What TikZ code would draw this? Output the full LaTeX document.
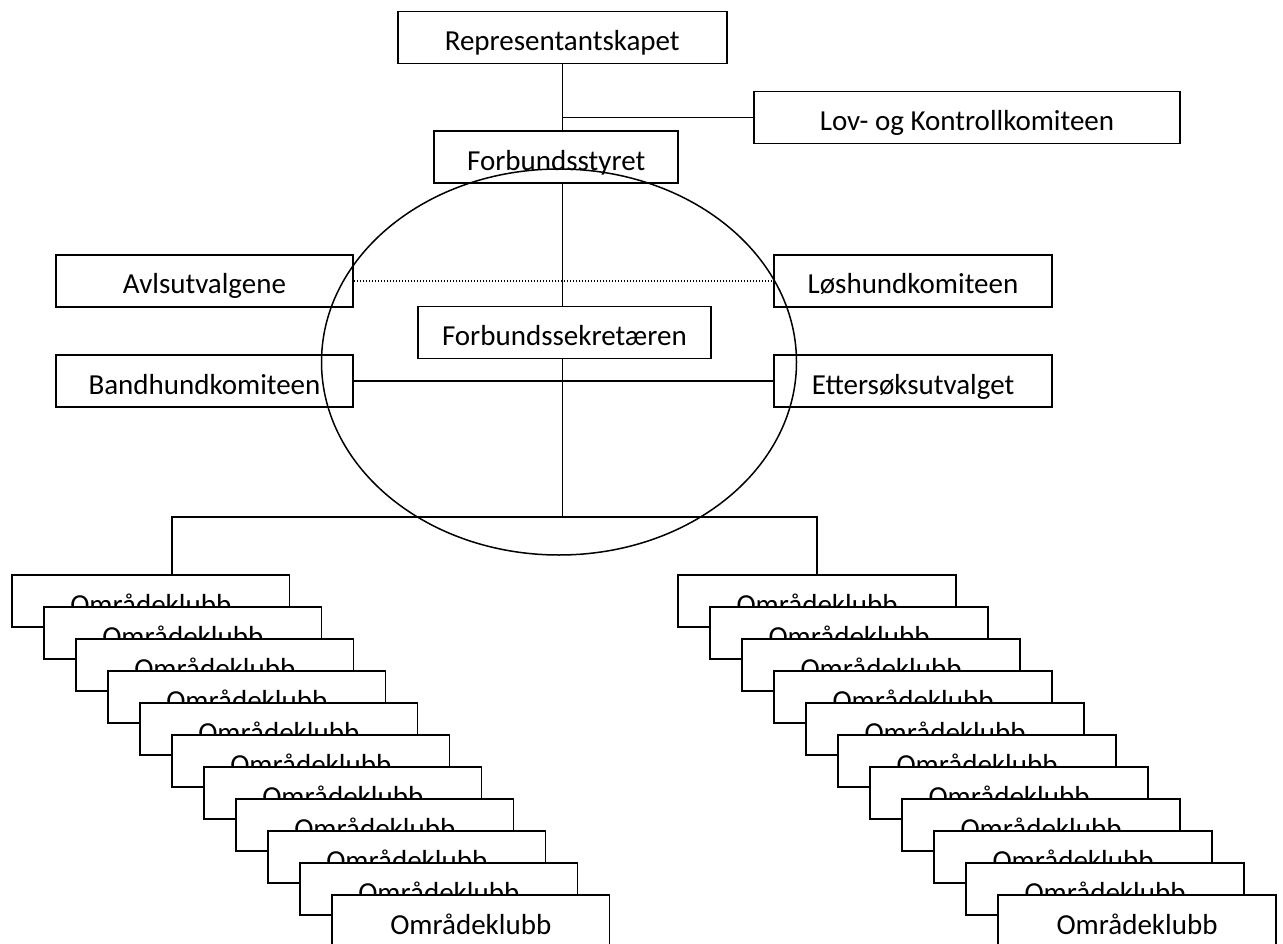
\documentclass[tikz,border=0pt]{standalone}
\usepackage{fontspec}
\setmainfont{Carlito}
\usetikzlibrary{shapes}
\tikzstyle{box} = [rectangle, draw=black, fill=white, line width=1.8pt, minimum height=52pt, inner sep=0pt, text height=26pt, text depth=0pt, font=\fontsize{29}{35}\selectfont]
\tikzstyle{club} = [box, minimum width=277.5pt]
\tikzstyle{line} = [line width=1.8pt]
\tikzstyle{dotline} = [line width=1.2pt, dash pattern=on 1.3pt off 1.7pt]

\begin{document}
\begin{tikzpicture}[x=1pt, y=-1pt]
\useasboundingbox (0,0) rectangle (1283,944);
\node[box, minimum width=329pt] (rep) at (562.2,37.5) {Representantskapet};
\node[box, minimum width=426pt] (lov) at (967,117.5) {Lov- og Kontrollkomiteen};
\node[box, minimum width=244.3pt] (styret) at (556.2,157.2) {Forbundsstyret};
\node[box, minimum width=297pt] (avl) at (204.5,281) {Avlsutvalgene};
\node[box, minimum width=277.4pt] (los) at (913,281) {Løshundkomiteen};
\node[box, minimum width=293.3pt] (sekr) at (564.4,332.5) {Forbundssekretæren};
\node[box, minimum width=297pt] (band) at (204.5,381.2) {Bandhundkomiteen};
\node[box, minimum width=277.4pt] (etter) at (913,381.2) {Ettersøksutvalget};
\foreach \i in {0,...,10} {
  \node[club] (omL\i) at (150.75+32*\i, 601+32*\i) {Områdeklubb};
  \node[club] (omR\i) at (817+32*\i, 601+32*\i) {Områdeklubb};
}
\coordinate (spine) at (562.5,118);
\coordinate (fork) at (562.5,517.3);
\coordinate (dropL) at (172,517.3);
\coordinate (dropR) at (816.7,517.3);
\draw[line] (rep.south -| spine) -- (styret.north -| spine);
\draw[line] (spine |- lov.west) -- (lov.west);
\draw[line] (styret.south -| spine) -- (sekr.north -| spine);
\draw[dotline] (avl.east) -- (los.west);
\draw[line] (band.east) -- (etter.west);
\draw[line] (sekr.south -| fork) -- (fork);
\draw[line] (dropL |- omL0.north) -- (dropL) -- (dropR) -- (dropR |- omR0.north);
\draw[line width=1.5pt] (559,362) ellipse [x radius=237.5pt, y radius=193pt];
\end{tikzpicture}
\end{document}
